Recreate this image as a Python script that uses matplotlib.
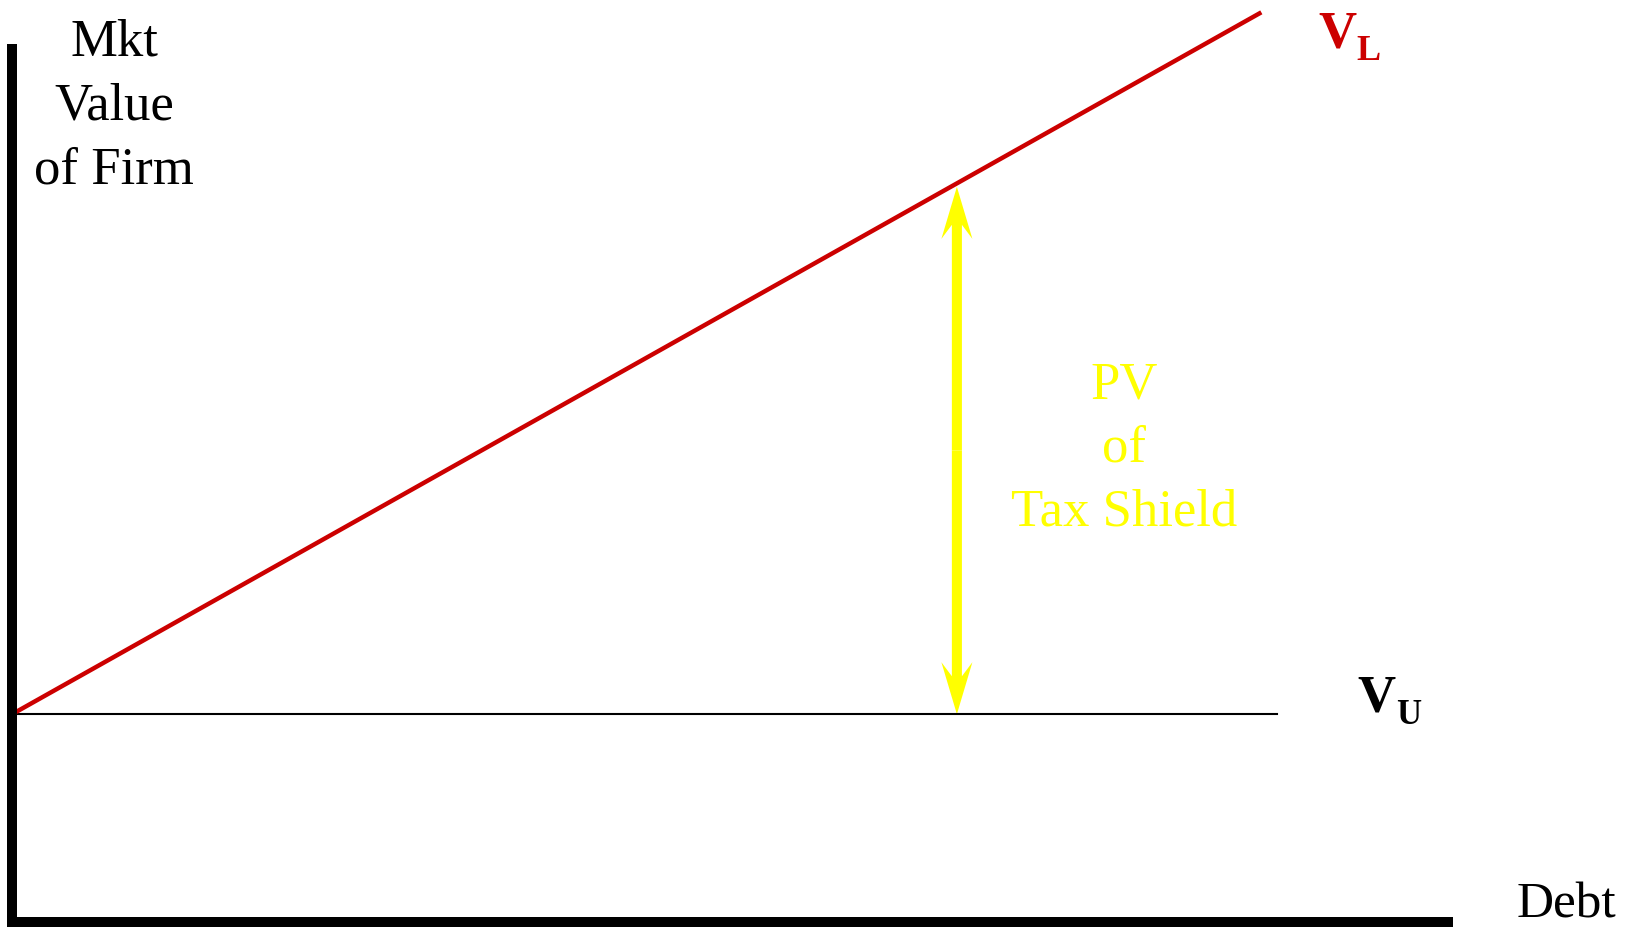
import matplotlib.pyplot as plt
import numpy as np

# conceptual chart: value of firm vs debt (MM with taxes)
debt = [0, 87.0]
debt_unlev = [0, 88.1]
v_unlev = [23.8, 23.8]
v_lev = [23.8, 104.2]
debt_arrow = 65.8

W, H = 1639, 932
RED = "#cc0000"
YELLOW = "#ffff00"
SERIF = ["Liberation Serif", "DejaVu Serif"]

def fx(px):
    return px / W

def fy(py):
    return 1 - py / H

fig = plt.figure(figsize=(W / 100, H / 100), dpi=100)
ax = fig.add_axes([fx(12), fy(922), fx(1448 - 12), (922 - 49) / H])
ax.set_xlim(0, 100)
ax.set_ylim(0, 100)
ax.set_xticks([])
ax.set_yticks([])
for s in ["top", "right"]:
    ax.spines[s].set_visible(False)
for s in ["left", "bottom"]:
    ax.spines[s].set_linewidth(7.2)
    ax.spines[s].set_capstyle("projecting")

ax.plot(debt_unlev, v_unlev, color="black", lw=1.5, clip_on=False)
ax.plot(debt, v_lev, color=RED, lw=3.2, clip_on=False, solid_capstyle="butt")

# double arrow = two single arrows from the middle
top = np.interp(debt_arrow, debt, v_lev) - 0.4
bot = v_unlev[0]
mid = (top + bot) / 2
kw = dict(width=0.70, head_width=2.16, head_length=5.96, overhang=0.27,
          length_includes_head=True, color=YELLOW, lw=0, clip_on=False)
ax.arrow(debt_arrow, mid, 0, top - mid, **kw)
ax.arrow(debt_arrow, mid, 0, bot - mid, **kw)

# y label
for txt, b in zip(["Mkt", "Value", "of Firm"], [55, 119, 183]):
    fig.text(fx(114), fy(b), txt, ha="center", va="baseline", fontsize=38, family=SERIF)

for txt, b in zip(["PV", "of", "Tax Shield"], [398, 461, 525]):
    fig.text(fx(1124), fy(b), txt, ha="center", va="baseline", fontsize=38,
             family=SERIF, color=YELLOW)

fig.text(fx(1517), fy(917), "Debt", ha="left", va="baseline", fontsize=37, family=SERIF)

fig.text(fx(1318), fy(47), "V", ha="left", va="baseline", fontsize=38,
         family=SERIF, weight="bold", color=RED)
fig.text(fx(1356), fy(60), "L", ha="left", va="baseline", fontsize=26,
         family=SERIF, weight="bold", color=RED)
fig.text(fx(1357), fy(712), "V", ha="left", va="baseline", fontsize=38,
         family=SERIF, weight="bold")
fig.text(fx(1396), fy(724), "U", ha="left", va="baseline", fontsize=25,
         family=SERIF, weight="bold")

fig.savefig("out.png", dpi=100)
